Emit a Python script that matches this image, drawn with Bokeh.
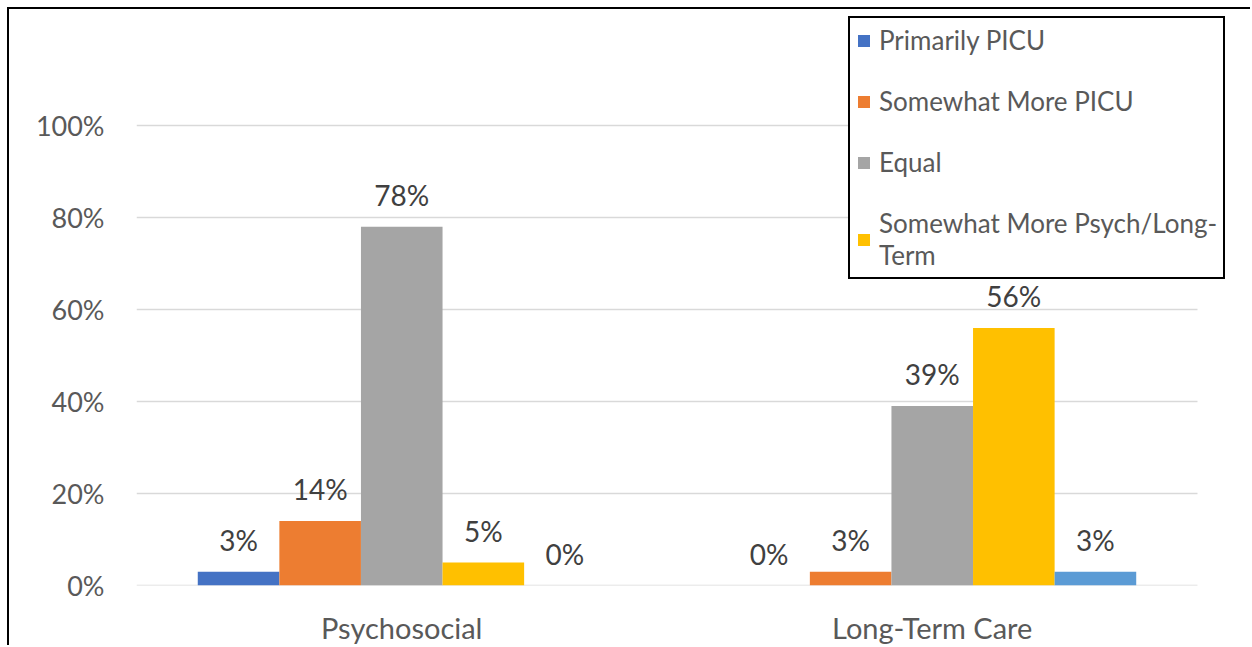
from bokeh.plotting import figure
from bokeh.models import (Range1d, Legend, LegendItem, ColumnDataSource,
                          NumeralTickFormatter, FixedTicker)
from bokeh.embed import file_html
from bokeh.resources import INLINE
from bokeh.core.properties import value

# Share of responses per care area
categories = ["Psychosocial", "Long-Term Care"]
series_names = ["Primarily PICU", "Somewhat More PICU", "Equal",
                "Somewhat More Psych/Long-Term", "Primarily Psych/Long-Term"]
primarily_picu = [0.03, 0.00]
somewhat_more_picu = [0.14, 0.03]
equal = [0.78, 0.39]
somewhat_more_psych = [0.05, 0.56]
primarily_psych = [0.00, 0.03]
y_ticks = [0, 0.2, 0.4, 0.6, 0.8, 1.0]

series_values = [primarily_picu, somewhat_more_picu, equal, somewhat_more_psych, primarily_psych]
colors = ["#4472C4", "#ED7D31", "#A5A5A5", "#FFC000", "#5B9BD5"]
legend_labels = ["Primarily PICU", "Somewhat More PICU", "Equal",
                 "Somewhat More Psych/Long-\nTerm"]

FONT = "Lato"
TEXT = "#595959"

# each category occupies one unit on the x scale, centred at i + 0.5
cat_centers = [i + 0.5 for i in range(len(categories))]
n_cats = len(categories)

p = figure(x_range=Range1d(0, n_cats + 0.0905),
           y_range=Range1d(0, 1.2522),
           width=1243, height=638,
           min_border_left=127, min_border_right=7,
           min_border_top=0, min_border_bottom=62,
           output_backend="svg", toolbar_location=None,
           background_fill_color="white", border_fill_color="white")
p.outline_line_color = None
p.styles = {"border-top": "2px solid black", "border-left": "2px solid black",
            "margin-top": "7px", "margin-left": "7px"}

# horizontal gridlines spanning the category area only
p.segment(x0=[0] * len(y_ticks), x1=[n_cats] * len(y_ticks), y0=y_ticks, y1=y_ticks,
          line_color="#D9D9D9", line_width=1.5, level="underlay")

bar_w = 0.1538
offsets = [(i - 2) * bar_w for i in range(len(series_names))]

renderers = []
for name, vals, col, off in zip(series_names, series_values, colors, offsets):
    src = ColumnDataSource(dict(x=[c + off for c in cat_centers], val=vals,
                                lab=[f"{round(v * 100)}%" for v in vals]))
    r = p.vbar(x="x", top="val", width=bar_w, source=src,
               fill_color=col, line_color=None)
    renderers.append(r)
    p.text(x="x", y="val", text="lab", source=src,
           text_align="center", text_baseline="alphabetic", y_offset=-32,
           text_font=value(FONT), text_font_size="28px", text_color="#404040")

legend = Legend(items=[LegendItem(label=lab, renderers=[r])
                       for lab, r in zip(legend_labels, renderers[:4])],
                orientation="vertical")
legend.glyph_width = 15
legend.glyph_height = 15
legend.label_standoff = 8
legend.spacing = 29
legend.padding = 6
legend.margin = 0
legend.label_text_font = FONT
legend.label_text_font_size = "26px"
legend.label_text_color = TEXT
legend.border_line_color = "black"
legend.border_line_alpha = 1
legend.border_line_width = 2
legend.background_fill_alpha = 1
legend.location = (712, 306)
p.add_layout(legend, "center")

p.yaxis.ticker = FixedTicker(ticks=y_ticks)
p.yaxis.formatter = NumeralTickFormatter(format="0%")
p.yaxis.axis_line_color = None
p.yaxis.major_tick_line_color = None
p.yaxis.minor_tick_line_color = None
p.yaxis.major_label_standoff = 26
p.yaxis.major_label_text_font = FONT
p.yaxis.major_label_text_font_size = "27px"
p.yaxis.major_label_text_color = TEXT

p.xaxis.ticker = FixedTicker(ticks=cat_centers)
p.xaxis.major_label_overrides = {c: name for c, name in zip(cat_centers, categories)}
p.xaxis.axis_line_color = None
p.xaxis.major_tick_line_color = None
p.xaxis.minor_tick_line_color = None
p.xaxis.major_label_standoff = 18
p.xaxis.major_label_text_font = FONT
p.xaxis.major_label_text_font_size = "29px"
p.xaxis.major_label_text_color = TEXT

p.xgrid.grid_line_color = None
p.ygrid.grid_line_color = None

open("out.html", "w").write(file_html(p, INLINE))
